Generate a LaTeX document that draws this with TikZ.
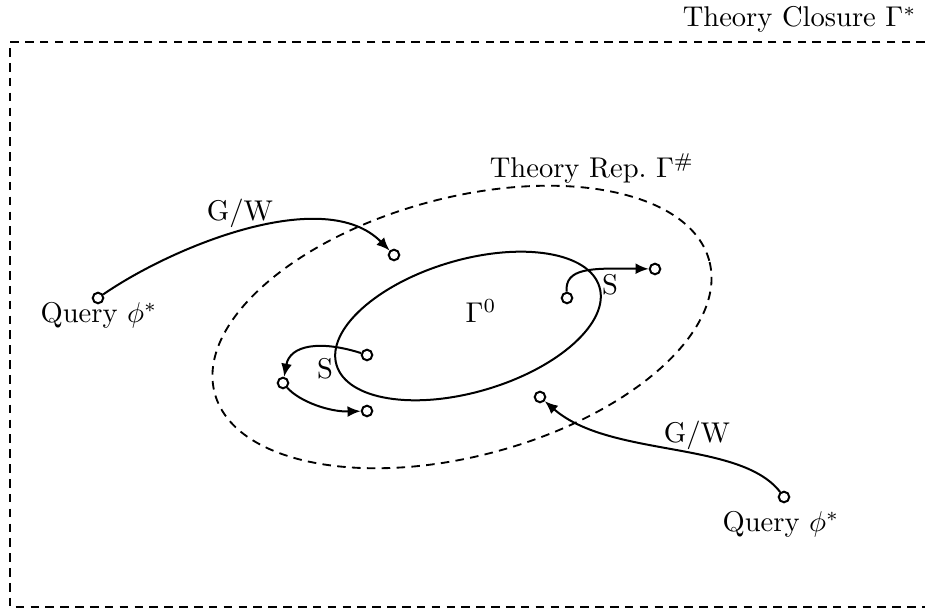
\documentclass[tikz,border=0pt]{standalone}
\usetikzlibrary{arrows.meta}
\begin{document}
\begin{tikzpicture}[x=0.35pt,y=-0.35pt,
  gdash/.style={line width=0.65pt, dash pattern=on 3pt off 2.2pt},
  pt/.style={circle,draw,line width=0.7pt,inner sep=0pt,minimum size=3.7pt},
  conn/.style={line width=0.7pt,-{Latex[length=4.6pt,width=3.8pt]}},
  lbl/.style={anchor=base,inner sep=0pt}]
\useasboundingbox (0,0) rectangle (925,613);
% closure frame
\draw[gdash] (925,42) -- (10,42) -- (10,607) -- (925,607);
\node[lbl,anchor=base east] (closure) at (917,27) {Theory Closure $\Gamma^{*}$};
% representation ellipse
\draw[gdash, rotate around={15:(462,327)}] (462,327) ellipse [x radius=89.6pt, y radius=45.2pt];
\node[lbl] (rep) at (592,178) {Theory Rep.\ $\Gamma^{\#}$};
% base ellipse
\draw[line width=0.7pt, rotate around={16.5:(468,326)}] (468,326) ellipse [x radius=48pt, y radius=23.1pt];
\node[lbl] (g0) at (481,323) {$\Gamma^{0}$};
% points
\node[pt] (q1) at (98,298) {};
\node[pt] (p1) at (394,255) {};
\node[pt] (p2) at (567,298) {};
\node[pt] (p3) at (655,269) {};
\node[pt] (p4) at (367,355) {};
\node[pt] (p5) at (283,383) {};
\node[pt] (p6) at (367,411) {};
\node[pt] (p7) at (540,397) {};
\node[pt] (q2) at (784,497) {};
% labels
\node[lbl] (lq1) at (99,323) {Query $\phi^{*}$};
\node[lbl] (lq2) at (781,532) {Query $\phi^{*}$};
\node[lbl] (gw1) at (240,221) {G/W};
\node[lbl] (gw2) at (697,443) {G/W};
\node[lbl] (s1) at (610,295) {S};
\node[lbl] (s2) at (325,379) {S};
% connectors
\draw[conn] (q1) .. controls (175,245) and (325,185) .. (p1);
\draw[conn] (p2) .. controls (565,268) and (590,268) .. (p3);
\draw[conn] (p4) .. controls (320,340) and (290,345) .. (p5);
\draw[conn] (p5) .. controls (300,402) and (330,412) .. (p6);
\draw[conn] (q2) .. controls (740,440) and (610,458) .. (p7);
\end{tikzpicture}
\end{document}
